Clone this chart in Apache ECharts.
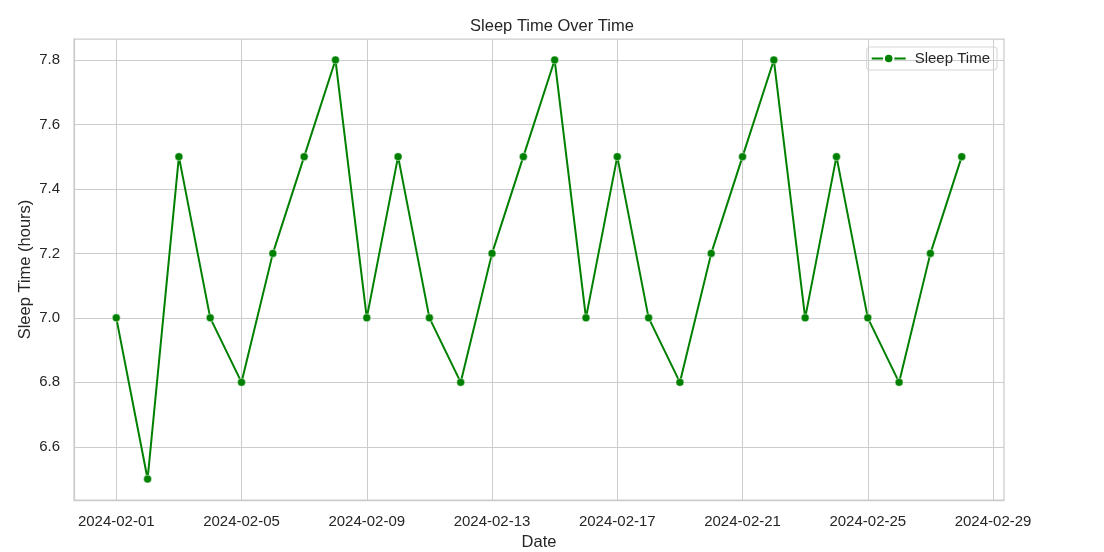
<!DOCTYPE html>
<html>
<head>
<meta charset="utf-8">
<script src="https://cdn.jsdelivr.net/npm/echarts@6/dist/echarts.min.js"></script>
<style>html,body{margin:0;padding:0;background:#fff}#c{width:1104px;height:552px}</style>
</head>
<body>
<div id="c"></div>
<script>
var days = [1,2,3,4,5,6,7,8,9,10,11,12,13,14,15,16,17,18,19,20,21,22,23,24,25,26,27,28];
var sleepHours = [7.0,6.5,7.5,7.0,6.8,7.2,7.5,7.8,7.0,7.5,7.0,6.8,7.2,7.5,7.8,7.0,7.5,7.0,6.8,7.2,7.5,7.8,7.0,7.5,7.0,6.8,7.2,7.5];
var xTickDays = [1,5,9,13,17,21,25,29];
var yTicks = [6.6,6.8,7.0,7.2,7.4,7.6,7.8];

function pad(n){return (n<10?'0':'')+n;}
var font = 'Liberation Sans, Arial, sans-serif';
var txt = '#262626';
var chart = echarts.init(document.getElementById('c'));
chart.setOption({
  animation:false,
  backgroundColor:'#fff',
  title:{text:'Sleep Time Over Time',left:'center',top:13,textStyle:{fontFamily:font,fontSize:16.5,fontWeight:'normal',color:txt}},
  legend:{
    right:107, top:47, orient:'vertical',
    data:['Sleep Time'],
    borderColor:'#d6d6d6', borderWidth:1, borderRadius:3,
    padding:[4,7,4,4], itemWidth:34, itemHeight:12, itemGap:0,
    textStyle:{fontFamily:font,fontSize:15,color:txt,padding:[0,0,0,4]}
  },
  grid:{left:74,right:100,top:39,bottom:52,outerBoundsMode:'none',
    show:true,borderColor:'#cccccc',borderWidth:1.25,backgroundColor:'transparent'},
  xAxis:{
    type:'value', min:-0.35, max:29.35,
    name:'Date', nameLocation:'middle', nameGap:32,
    nameTextStyle:{fontFamily:font,fontSize:16.5,color:txt},
    axisLine:{show:true,onZero:false,lineStyle:{color:'#cccccc',width:1.25}},
    axisTick:{show:false,customValues:xTickDays},
    axisLabel:{customValues:xTickDays,margin:14,fontFamily:font,fontSize:15,color:txt,
      formatter:function(v){return '2024-02-'+pad(Math.round(v));}},
    splitLine:{show:true,lineStyle:{color:'#cccccc',width:1}}
  },
  yAxis:{
    type:'value', min:6.435, max:7.865,
    name:'Sleep Time (hours)', nameLocation:'middle', nameGap:40, nameRotate:90,
    nameMoveOverlap:false,
    nameTextStyle:{fontFamily:font,fontSize:16.5,color:txt},
    axisLine:{show:true,onZero:false,lineStyle:{color:'#cccccc',width:1.25}},
    axisTick:{show:false,customValues:yTicks},
    axisLabel:{customValues:yTicks,margin:14,fontFamily:font,fontSize:15,color:txt,
      formatter:function(v){return v.toFixed(1);}},
    splitLine:{show:true,lineStyle:{color:'#cccccc',width:1}}
  },
  series:[{
    name:'Sleep Time', type:'line',
    data:days.map(function(d,i){return [d,sleepHours[i]];}),
    symbol:'circle', symbolSize:8, showSymbol:true,
    lineStyle:{color:'#008000',width:2},
    itemStyle:{color:'#008000',borderColor:'#ffffff',borderWidth:0.5}
  }]
});
</script>
</body>
</html>
